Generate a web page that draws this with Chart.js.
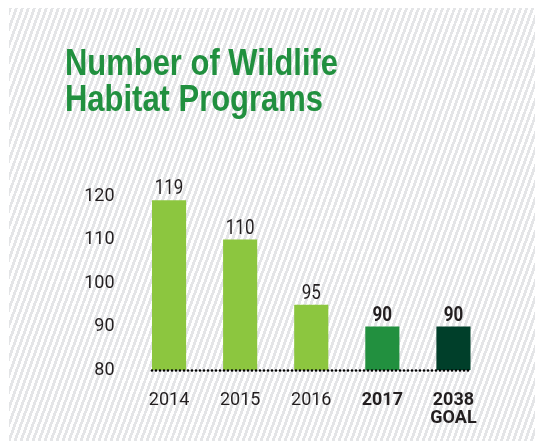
<!DOCTYPE html>
<html lang="en">
<head>
    <meta charset="UTF-8">
    <title>Number of Wildlife Habitat Programs</title>
    <script src="https://cdn.jsdelivr.net/npm/chart.js"></script>
    <style>
        html, body {
            margin: 0;
            padding: 0;
            background: #ffffff;
        }
        #panel {
            position: absolute;
            left: 9px;
            top: 8px;
            width: 526px;
            height: 433px;
            background: repeating-linear-gradient(110deg, #e4e5e7 0px, #e4e5e7 2.8px, #ffffff 2.8px, #ffffff 5.64px);
        }
        canvas {
            display: block;
        }
    </style>
</head>
<body>
    <div id="panel">
        <canvas id="barChart" width="526" height="433"></canvas>
    </div>

    <script>
        const categories = [['2014'], ['2015'], ['2016'], ['2017'], ['2038', 'GOAL']];
        const programs = [119, 110, 95, 90, 90];
        const barColors = ['#8cc63f', '#8cc63f', '#8cc63f', '#22903f', '#003f2a'];
        const boldLabels = [false, false, false, true, true];
        const yTicks = [80, 90, 100, 110, 120];
        const titleLines = ['Number of Wildlife', 'Habitat Programs'];

        const fontFamily = "Roboto, 'Liberation Sans', sans-serif";
        const textColor = '#231f20';
        const titleColor = '#21903f';

        // title, value labels above the bars, dotted baseline
        const extras = {
            id: 'extras',
            afterDraw(chart) {
                const ctx = chart.ctx;
                ctx.save();

                // title (squeezed a little to mimic the condensed face)
                ctx.fillStyle = titleColor;
                ctx.textAlign = 'left';
                ctx.textBaseline = 'alphabetic';
                ctx.font = "bold 37px 'Liberation Sans', Arial, sans-serif";
                ctx.fillText(titleLines[0], 56, 67, 273);
                ctx.fillText(titleLines[1], 56, 103, 258);

                // values above bars
                const meta = chart.getDatasetMeta(0);
                ctx.fillStyle = textColor;
                ctx.textAlign = 'center';
                ctx.textBaseline = 'alphabetic';
                meta.data.forEach((bar, i) => {
                    ctx.font = (boldLabels[i] ? 'bold ' : '') + '20px ' + fontFamily;
                    const txt = String(programs[i]);
                    const w = ctx.measureText(txt).width * 0.85;
                    ctx.fillText(txt, bar.x, bar.y - 6, w);
                });

                // dotted line along the 80 mark
                const yScale = chart.scales.y;
                const first = meta.data[0];
                const last = meta.data[meta.data.length - 1];
                const y0 = yScale.getPixelForValue(80) + 0.5;
                ctx.fillStyle = '#000';
                for (let x = first.x - first.width / 2; x <= last.x + last.width / 2 + 1; x += 4) {
                    ctx.beginPath();
                    ctx.arc(x, y0, 1.3, 0, Math.PI * 2);
                    ctx.fill();
                }
                ctx.restore();
            }
        };

        new Chart(document.getElementById('barChart'), {
            type: 'bar',
            data: {
                labels: categories,
                datasets: [{
                    data: programs,
                    backgroundColor: barColors,
                    borderWidth: 0,
                    barPercentage: 0.96,
                    categoryPercentage: 0.5
                }]
            },
            options: {
                responsive: false,
                animation: false,
                layout: {
                    padding: { left: 56, right: 46, top: 188, bottom: 0 }
                },
                plugins: {
                    legend: { display: false },
                    tooltip: { enabled: false },
                    title: { display: false }
                },
                scales: {
                    x: {
                        grid: { display: false },
                        border: { display: false },
                        ticks: {
                            color: textColor,
                            padding: 13,
                            font: ctx => ({
                                family: fontFamily,
                                size: 18,
                                weight: boldLabels[ctx.index] ? 'bold' : 'normal',
                                lineHeight: 1.0
                            })
                        },
                        afterFit(axis) { axis.height = 71; }
                    },
                    y: {
                        min: 80,
                        max: 120,
                        grid: { display: false },
                        border: { display: false },
                        afterBuildTicks(axis) {
                            axis.ticks = yTicks.map(v => ({ value: v }));
                        },
                        ticks: {
                            color: textColor,
                            padding: 11,
                            font: { family: fontFamily, size: 18 }
                        },
                        afterFit(axis) { axis.width = 68.5; }
                    }
                }
            },
            plugins: [extras]
        });
    </script>
</body>
</html>
